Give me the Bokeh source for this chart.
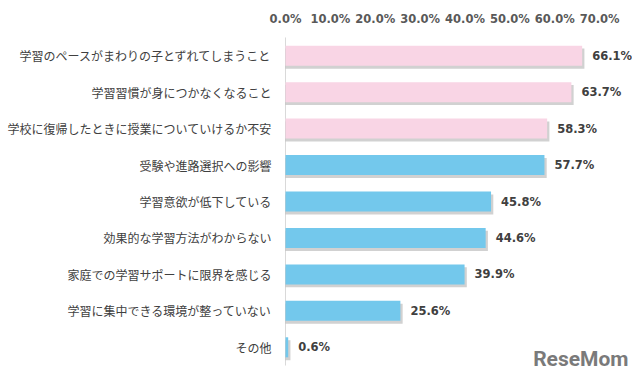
from bokeh.plotting import figure
from bokeh.models import Range1d, ColumnDataSource, Label
from bokeh.core.properties import value
from bokeh.embed import file_html
from bokeh.resources import INLINE

categories = [
    "学習のペースがまわりの子とずれてしまうこと",
    "学習習慣が身につかなくなること",
    "学校に復帰したときに授業についていけるか不安",
    "受験や進路選択への影響",
    "学習意欲が低下している",
    "効果的な学習方法がわからない",
    "家庭での学習サポートに限界を感じる",
    "学習に集中できる環境が整っていない",
    "その他",
]
values = [66.1, 63.7, 58.3, 57.7, 45.8, 44.6, 39.9, 25.6, 0.6]
groups = ["pink", "pink", "pink", "blue", "blue", "blue", "blue", "blue", "blue"]
ticks = [0, 10, 20, 30, 40, 50, 60, 70]
tick_labels = [f"{t:.1f}%" for t in ticks]

color_map = {"pink": "#F9D5E5", "blue": "#73C8EC"}
pos = list(range(len(categories)))
src = ColumnDataSource(dict(
    pos=pos,
    shadow_pos=[i + 0.08 for i in pos],
    zero=[0] * len(pos),
    cat=categories,
    val=values,
    shadow=[v + 0.5 for v in values],
    color=[color_map[g] for g in groups],
    label=[f"{v:.1f}%" for v in values],
))

W, H = 632, 376
px_per_unit = 4.488          # pixels per percentage point
zero_px = 285                # canvas x of 0%
row_px = 36.45               # pixels per category row
first_px = 55.2              # canvas y of first row centre

x_start = -zero_px / px_per_unit
x_end = (W - zero_px) / px_per_unit
y_top = -first_px / row_px
y_bottom = (H - first_px) / row_px

p = figure(
    width=W, height=H,
    x_range=Range1d(x_start, x_end),
    y_range=Range1d(y_bottom, y_top),
    x_axis_type=None, y_axis_type=None,
    output_backend="svg", toolbar_location=None,
    min_border=0,
)
p.outline_line_color = None
p.grid.visible = False
p.background_fill_color = "white"

# axis line
n = len(categories)
p.segment(x0=[0], y0=[-0.5], x1=[0], y1=[n - 0.5], line_color="#d9d9d9", line_width=1)

# shadow + bars
p.hbar(y="shadow_pos", left=0, right="shadow", height=0.55,
       source=src, fill_color="#9a9a9a", fill_alpha=0.45, line_color=None)
p.hbar(y="pos", left=0, right="val", height=0.55, source=src,
       fill_color="color", line_color=None)

# value labels
p.text(x="val", y="pos", text="label", source=src, x_offset=10,
       text_baseline="middle", text_align="left", text_font_size="11.5px",
       text_font_style="bold", text_color="#404040", text_font=value("DejaVu Sans"))

# category labels
p.text(x="zero", y="pos", text="cat", source=src, x_offset=-14,
       text_baseline="middle", text_align="right", text_font_size="12px",
       text_color="#404040", text_font=value("Noto Sans CJK JP"))

# top tick labels
tick_y = (18 - first_px) / row_px
p.text(x=ticks, y=[tick_y] * len(ticks), text=tick_labels,
       text_baseline="middle", text_align="center", text_font_size="11.5px",
       text_font_style="bold", text_color="#595959", text_font=value("DejaVu Sans"))

wm = Label(x=(628 - zero_px) / px_per_unit, y=(358 - first_px) / row_px, text="ReseMom",
           text_align="right", text_baseline="middle",
           text_font="Roboto", text_font_style="bold", text_font_size="21px",
           text_color="#7a7a7a")
p.add_layout(wm)

open("out.html", "w").write(file_html(p, INLINE))
